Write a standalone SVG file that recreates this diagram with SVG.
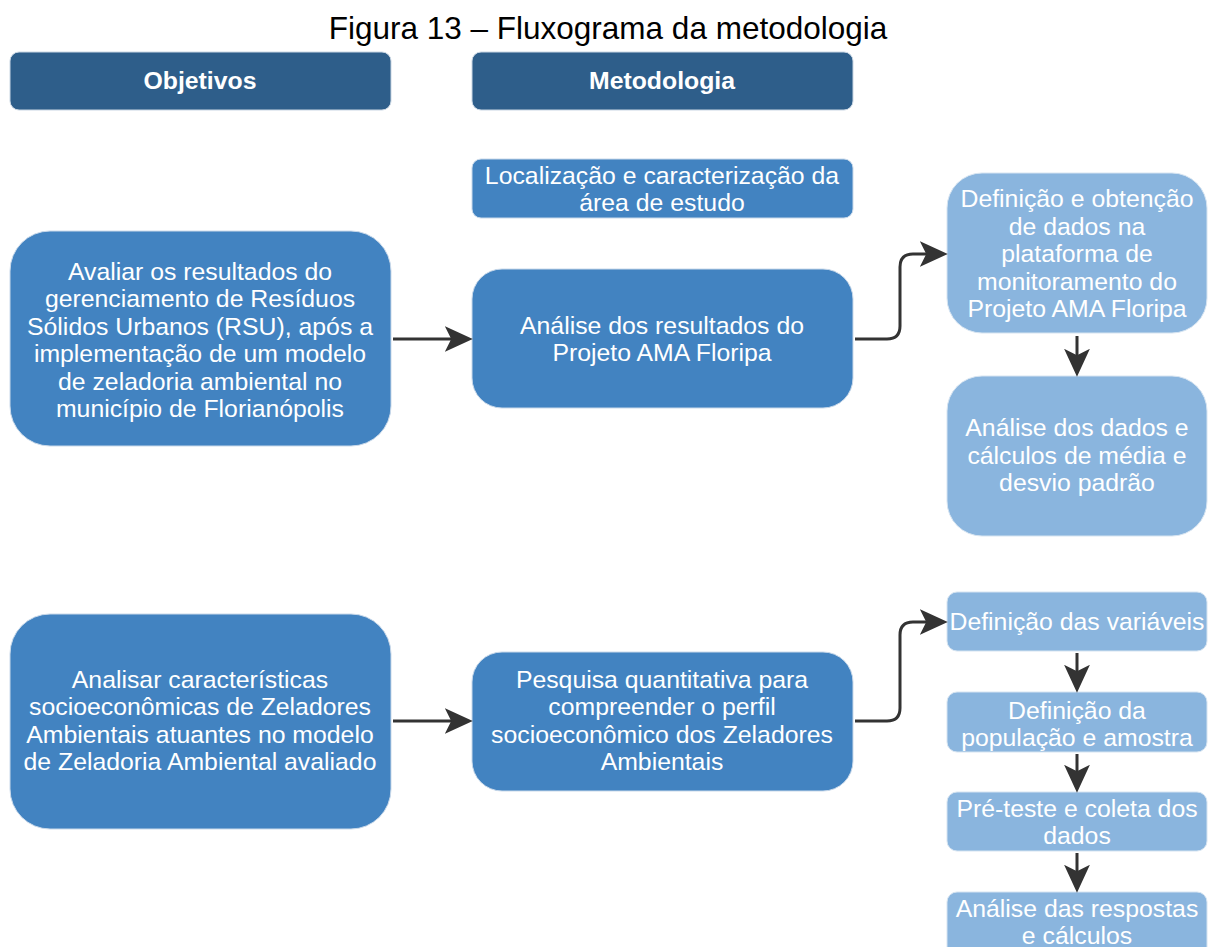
<svg xmlns="http://www.w3.org/2000/svg" width="1212" height="947" viewBox="0 0 1212 947">
<style>
text{font-family:"Liberation Sans",Arial,sans-serif;fill:#ffffff;text-anchor:middle;font-size:24.8px}
.title{fill:#000;font-size:31.5px}
.hdr{fill:#2e5e8a;stroke:#c9d6e3;stroke-width:1}
.mid{fill:#4283c1;stroke:#c9d9ea;stroke-width:1}
.lt{fill:#8ab5de;stroke:#d6e4f1;stroke-width:1}
.bold{font-weight:bold}
.conn{fill:none;stroke:#333333;stroke-width:3}
</style>
<defs>
<marker id="ah" viewBox="0 0 26 26" markerWidth="28" markerHeight="28" refX="16" refY="13" orient="auto" markerUnits="userSpaceOnUse">
<path d="M0,1 L26,13 L0,25 L6,13 z" fill="#333333"/>
</marker>
</defs>
<rect width="1212" height="947" fill="#ffffff"/>
<text class="title" x="608" y="39">Figura 13 – Fluxograma da metodologia</text>

<g id="hdr-objetivos"><rect class="hdr" x="10" y="52" width="381" height="58" rx="9"/><text class="bold" x="200" y="89">Objetivos</text></g>
<g id="hdr-metodologia"><rect class="hdr" x="472" y="52" width="381" height="58" rx="9"/><text class="bold" x="662" y="89">Metodologia</text></g>

<g id="localizacao"><rect class="mid" x="472" y="159" width="381" height="59" rx="9"/><text x="662" y="184">Localização e caracterização da</text><text x="662" y="211">área de estudo</text></g>

<g id="avaliar"><rect class="mid" x="10" y="231" width="381" height="215" rx="40"/>
<text x="200" y="280">Avaliar os resultados do</text>
<text x="200" y="307">gerenciamento de Resíduos</text>
<text x="200" y="335">Sólidos Urbanos (RSU), após a</text>
<text x="200" y="362">implementação de um modelo</text>
<text x="200" y="390">de zeladoria ambiental no</text>
<text x="200" y="417">município de Florianópolis</text></g>

<g id="analise-ama"><rect class="mid" x="472" y="269" width="381" height="139" rx="30"/>
<text x="662" y="334">Análise dos resultados do</text>
<text x="662" y="361">Projeto AMA Floripa</text></g>

<g id="definicao-obtencao"><rect class="lt" x="947" y="173" width="260" height="160" rx="35"/>
<text x="1077" y="207">Definição e obtenção</text>
<text x="1077" y="235">de dados na</text>
<text x="1077" y="262">plataforma de</text>
<text x="1077" y="290">monitoramento do</text>
<text x="1077" y="317">Projeto AMA Floripa</text></g>

<g id="analise-dados"><rect class="lt" x="947" y="376" width="260" height="160" rx="35"/>
<text x="1077" y="436">Análise dos dados e</text>
<text x="1077" y="464">cálculos de média e</text>
<text x="1077" y="491">desvio padrão</text></g>

<g id="analisar"><rect class="mid" x="10" y="614" width="381" height="215" rx="40"/>
<text x="200" y="688">Analisar características</text>
<text x="200" y="715">socioeconômicas de Zeladores</text>
<text x="200" y="743">Ambientais atuantes no modelo</text>
<text x="200" y="770">de Zeladoria Ambiental avaliado</text></g>

<g id="pesquisa"><rect class="mid" x="472" y="652" width="381" height="139" rx="30"/>
<text x="662" y="688">Pesquisa quantitativa para</text>
<text x="662" y="715">compreender o perfil</text>
<text x="662" y="743">socioeconômico dos Zeladores</text>
<text x="662" y="770">Ambientais</text></g>

<g id="def-variaveis"><rect class="lt" x="947" y="592" width="260" height="59" rx="10"/>
<text x="1077" y="630">Definição das variáveis</text></g>
<g id="def-populacao"><rect class="lt" x="947" y="692" width="260" height="60" rx="10"/>
<text x="1077" y="719">Definição da</text><text x="1077" y="746">população e amostra</text></g>
<g id="pre-teste"><rect class="lt" x="947" y="792" width="260" height="59" rx="10"/>
<text x="1077" y="817">Pré-teste e coleta dos</text><text x="1077" y="844">dados</text></g>
<g id="analise-respostas"><rect class="lt" x="947" y="892" width="260" height="70" rx="10"/>
<text x="1077" y="917">Análise das respostas</text><text x="1077" y="944">e cálculos</text></g>

<g id="connectors">
<path class="conn" marker-end="url(#ah)" d="M393,339 H462"/>
<path class="conn" marker-end="url(#ah)" d="M393,721 H462"/>
<path class="conn" marker-end="url(#ah)" d="M855,339 H887 Q900,339 900,326 V267 Q900,254 913,254 H937"/>
<path class="conn" marker-end="url(#ah)" d="M855,721 H887 Q900,721 900,708 V635 Q900,622 913,622 H937"/>
<path class="conn" marker-end="url(#ah)" d="M1077,336 V366"/>
<path class="conn" marker-end="url(#ah)" d="M1077,653 V682"/>
<path class="conn" marker-end="url(#ah)" d="M1077,754 V782"/>
<path class="conn" marker-end="url(#ah)" d="M1077,853 V882"/>
</g>
</svg>
